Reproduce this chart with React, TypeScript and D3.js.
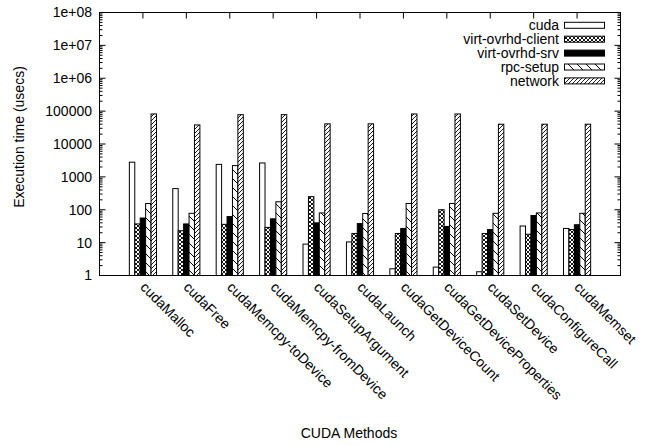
import React from 'react';
import * as d3 from 'd3';

// CUDA call timings (usecs)
const methods = [
  'cudaMalloc', 'cudaFree', 'cudaMemcpy-toDevice', 'cudaMemcpy-fromDevice',
  'cudaSetupArgument', 'cudaLaunch', 'cudaGetDeviceCount', 'cudaGetDeviceProperties',
  'cudaSetDevice', 'cudaConfigureCall', 'cudaMemset',
];
const seriesNames = ['cuda', 'virt-ovrhd-client', 'virt-ovrhd-srv', 'rpc-setup', 'network'];
const cuda = [2800, 440, 2400, 2650, 9, 10.5, 1.6, 1.8, 1.3, 32, 27];
const virtClient = [37, 23, 36, 29, 250, 19, 19, 100, 19, 18, 25];
const virtSrv = [56, 37, 62, 53, 40, 38, 27, 31, 25, 67, 35];
const rpcSetup = [155, 78, 2200, 175, 80, 77, 155, 155, 78, 80, 78];
const network = [82000, 38000, 78000, 78000, 41000, 41000, 82000, 82000, 40000, 40000, 40000];
const yTicks = [1, 10, 100, 1000, 10000, 100000, 1e6, 1e7, 1e8];
const yTickLabels = ['1', '10', '100', '1000', '10000', '100000', '1e+06', '1e+07', '1e+08'];

const fills = ['#fff', 'url(#xhatch)', '#000', 'url(#bslash)', 'url(#fslash)'];

const W = 645;
const H = 445;
const left = 99.5, right = 620.5, top = 12.5, bottom = 275.5;
const FONT = '"Liberation Sans", Arial, sans-serif';

export default function App() {
  const all = [cuda, virtClient, virtSrv, rpcSetup, network];
  const x = d3.scaleLinear().domain([-1, methods.length]).range([left, right]);
  const y = d3.scaleLog().domain([1, 1e8]).range([bottom, top]);
  const unit = x(1) - x(0);
  const bw = unit / (seriesNames.length + 3);

  const minor: number[] = [];
  for (let e = 0; e < 8; e++) for (let m = 2; m <= 9; m++) minor.push(m * Math.pow(10, e));

  return (
    <svg width={W} height={H} style={{ position: 'absolute', left: 0, top: 0, background: '#fff' }}
      fontFamily={FONT} fontSize={14}>
      <defs>
        <pattern id="xhatch" patternUnits="userSpaceOnUse" width={4} height={4}>
          <rect width={4} height={4} fill="#fff" />
          <path d="M0,0L4,4M0,4L4,0" stroke="#000" strokeWidth={0.9} />
        </pattern>
        <pattern id="bslash" patternUnits="userSpaceOnUse" width={9} height={9}>
          <rect width={9} height={9} fill="#fff" />
          <path d="M0,0L9,9M-1,8L1,10M8,-1L10,1" stroke="#000" strokeWidth={1} />
        </pattern>
        <pattern id="fslash" patternUnits="userSpaceOnUse" width={4} height={4}>
          <rect width={4} height={4} fill="#fff" />
          <path d="M0,4L4,0M-1,1L1,-1M3,5L5,3" stroke="#000" strokeWidth={0.9} />
        </pattern>
      </defs>

      {/* y ticks (left + mirrored right) */}
      {yTicks.map((t, i) => (
        <g key={'yt' + t}>
          <line x1={left} x2={left + 6} y1={y(t)} y2={y(t)} stroke="#000" />
          <line x1={right} x2={right - 6} y1={y(t)} y2={y(t)} stroke="#000" />
          <text x={92} y={y(t)} dy="0.35em" textAnchor="end">{yTickLabels[i]}</text>
        </g>
      ))}
      {minor.map((t) => (
        <g key={'mt' + t}>
          <line x1={left} x2={left + 3} y1={y(t)} y2={y(t)} stroke="#000" />
          <line x1={right} x2={right - 3} y1={y(t)} y2={y(t)} stroke="#000" />
        </g>
      ))}

      {/* x ticks (bottom + mirrored top) and rotated labels */}
      {methods.map((m, i) => (
        <g key={m}>
          <line x1={x(i)} x2={x(i)} y1={bottom} y2={bottom - 6} stroke="#000" />
          <line x1={x(i)} x2={x(i)} y1={top} y2={top + 6} stroke="#000" />
          <text transform={`translate(${x(i)},284.5) rotate(45)`} dy="0.35em">{m}</text>
        </g>
      ))}

      {/* bars */}
      {all.map((vals, j) => (
        <g key={seriesNames[j]}>
          {vals.map((v, i) => {
            const x0 = x(i) + (j - seriesNames.length / 2) * bw;
            return (
              <rect key={i} x={x0} y={y(v)} width={bw} height={y(1) - y(v)}
                fill={fills[j]} stroke="#000" strokeWidth={1} />
            );
          })}
        </g>
      ))}

      {/* frame */}
      <rect x={left} y={top} width={right - left} height={bottom - top} fill="none" stroke="#000" />

      {/* legend */}
      {seriesNames.map((s, j) => {
        const cy = 25.3 + j * 13.9;
        return (
          <g key={'lg' + s}>
            <text x={559} y={cy} dy="0.35em" textAnchor="end">{s}</text>
            <rect x={564.5} y={cy - 3} width={40} height={6} fill={fills[j]} stroke="#000" />
          </g>
        );
      })}

      {/* axis titles */}
      <text transform="translate(24,137) rotate(-90)" textAnchor="middle">Execution time (usecs)</text>
      <text x={349} y={437.5} textAnchor="middle">CUDA Methods</text>
    </svg>
  );
}
